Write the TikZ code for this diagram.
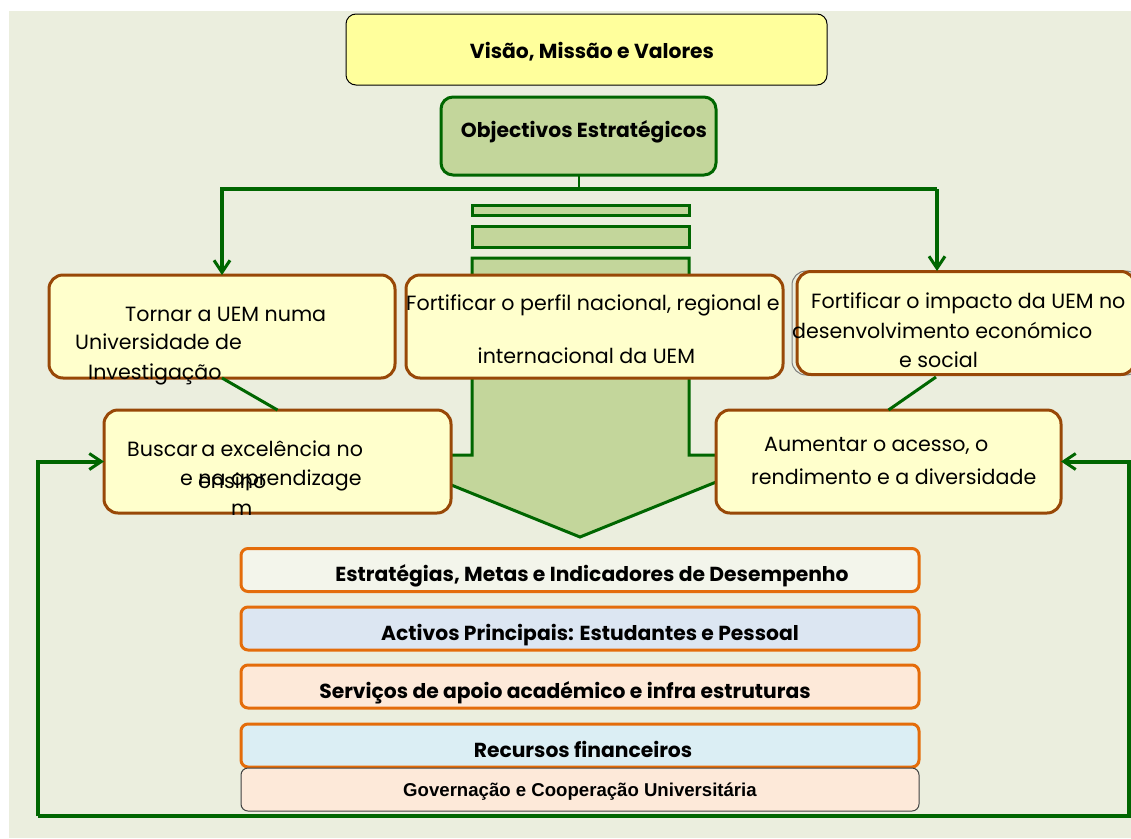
\documentclass[tikz,border=0pt]{standalone}
\usepackage{fontspec}
\setmainfont{Poppins}
\newfontfamily\arialfont{Liberation Sans}
\usetikzlibrary{arrows.meta}
\definecolor{bgc}{HTML}{EBEEDE}
\definecolor{topfill}{HTML}{FFFF9C}
\definecolor{objfill}{HTML}{C3D69B}
\definecolor{darkgreen}{HTML}{006600}
\definecolor{yelfill}{HTML}{FFFFCC}
\definecolor{brownc}{HTML}{984807}
\definecolor{orangec}{HTML}{E46C0A}
\definecolor{fillA}{HTML}{F3F5EB}
\definecolor{fillB}{HTML}{DCE6F2}
\definecolor{fillC}{HTML}{FDE9D9}
\definecolor{fillD}{HTML}{DBEEF4}
\tikzset{
  boxnode/.style={inner sep=0pt, outer sep=0pt, rectangle},
  yelbox/.style={boxnode, draw=brownc, line width=3pt, fill=yelfill, rounded corners=14pt},
  stackbox/.style={boxnode, draw=orangec, line width=3pt, rounded corners=7pt, minimum width=678pt, minimum height=43pt},
  greenline/.style={draw=darkgreen, line width=4pt},
  greenarrow/.style={greenline, -{Straight Barb[length=12pt, width=16pt, line width=3pt]}},
  regtxt/.style={inner sep=0pt, font=\fontsize{20.6}{24}\selectfont, text=black},
  boldtxt/.style={inner sep=0pt, font=\fontsize{20.3}{24}\selectfont\bfseries, text=black, anchor=base},
}
\begin{document}
\begin{tikzpicture}[x=1pt,y=-1pt]
\useasboundingbox (0,0) rectangle (1131,838);
\fill[bgc] (9,11) rectangle (1131,838);

% block arrow and bars
\filldraw[fill=objfill, draw=darkgreen, line width=3pt]
  (472,258) -- (689,258) -- (689,455) -- (783,455) -- (580,537) -- (377,455) -- (472,455) -- cycle;
\filldraw[fill=objfill, draw=darkgreen, line width=3pt] (472,205) rectangle (689,215);
\filldraw[fill=objfill, draw=darkgreen, line width=3pt] (472,226) rectangle (689,247);

% top boxes
\node[boxnode, draw=black, line width=1pt, fill=topfill, rounded corners=10pt,
  minimum width=481pt, minimum height=71pt] (visao) at (586.5,49.5) {};
\node[boldtxt] (visaotxt) at (592,58) {Visão, Missão e Valores};

\node[boxnode, draw=darkgreen, line width=3pt, fill=objfill, rounded corners=12pt,
  minimum width=275pt, minimum height=78pt] (obj) at (578.5,136) {};
\node[boldtxt] (objtxt) at (584,137) {Objectivos Estratégicos};

% connectors from objectives
\coordinate (split) at (obj.south |- 0,189);
\coordinate (impin) at (937,271);
\draw[draw=darkgreen, line width=2pt] (obj.south) -- (split);
\draw[greenline] (split) -- (impin |- split);

% objective boxes
\node[yelbox, minimum width=346pt, minimum height=103pt] (tornar) at (222,326.5) {};
\node[yelbox, minimum width=377pt, minimum height=103pt] (perfil) at (594.5,326.5) {};
\draw[draw=gray, line width=1pt, rounded corners=14pt] (792,271) rectangle (1140,375);
\node[yelbox, minimum width=338pt, minimum height=103pt] (impacto) at (966,323) {};
\node[yelbox, minimum width=347pt, minimum height=103pt] (buscar) at (277.5,461.5) {};
\node[yelbox, minimum width=345pt, minimum height=103pt] (aumentar) at (888.5,461.5) {};

\draw[greenarrow] (split) -| (tornar.north);
\draw[greenarrow] (impin |- split) -- (impin);

% links between boxes
\coordinate (impout) at (936,377);
\draw[draw=darkgreen, line width=3pt] (tornar.south) -- (buscar.north);
\draw[draw=darkgreen, line width=3pt] (impout) -- (aumentar.north);

% texts in objective boxes
\node[regtxt, anchor=base west] (t1) at (125,321) {Tornar a UEM numa};
\node[regtxt, anchor=base west] (t2) at (75,349) {Universidade de};
\node[regtxt, anchor=base west] (t3) at (88,379) {Investigação};
\node[regtxt, anchor=base west] (p1) at (406,310) {Fortificar o perfil nacional, regional e};
\node[regtxt, anchor=base west] (p2) at (477.5,363) {internacional da UEM};
\node[regtxt, anchor=base west] (i1) at (811,308) {Fortificar o impacto da UEM no};
\node[regtxt, anchor=base west] (i2) at (792,338) {desenvolvimento económico};
\node[regtxt, anchor=base west] (i3) at (899,367) {e social};
\node[regtxt, anchor=base west] (b1) at (127,456) {Buscar\,a excelência no};
\node[regtxt, anchor=base west] (b2) at (180,485) {e na aprendizage};
\node[regtxt, anchor=base west] (b3) at (198,488) {ensino};
\node[regtxt, anchor=base west] (b4) at (231,515) {m};
\node[regtxt, anchor=base west] (a1) at (764,451) {Aumentar o acesso, o};
\node[regtxt, anchor=base west] (a2) at (751,484) {rendimento e a diversidade};

% feedback loop
\coordinate (fbL) at (38,816);
\coordinate (fbR) at (1129,816);
\draw[greenarrow] (fbL) |- (buscar.west);
\draw[greenarrow] (fbL) -- (fbR) |- (aumentar.east);

% stacked bottom boxes
\node[stackbox, fill=fillA] (s1) at (580,570) {};
\node[boldtxt] (s1t) at (592,581) {Estratégias, Metas e Indicadores de Desempenho};
\node[stackbox, fill=fillB] (s2) at (580,628.5) {};
\node[boldtxt] (s2t) at (590,640) {Activos Principais: Estudantes e Pessoal};
\node[stackbox, fill=fillC] (s3) at (580,686.5) {};
\node[boldtxt] (s3t) at (565,698) {Serviços de apoio académico e infra estruturas};
\node[stackbox, fill=fillD] (s4) at (580,745.5) {};
\node[boldtxt] (s4t) at (583,757) {Recursos financeiros};
\node[boxnode, draw=black!75, line width=1pt, fill=fillC, rounded corners=7pt,
  minimum width=678pt, minimum height=43pt] (s5) at (580,789.5) {};
\node[inner sep=0pt, anchor=base, font=\arialfont\fontsize{18.6}{22}\selectfont\bfseries] (s5t) at (580,796) {Governação e Cooperação Universitária};
\end{tikzpicture}
\end{document}
